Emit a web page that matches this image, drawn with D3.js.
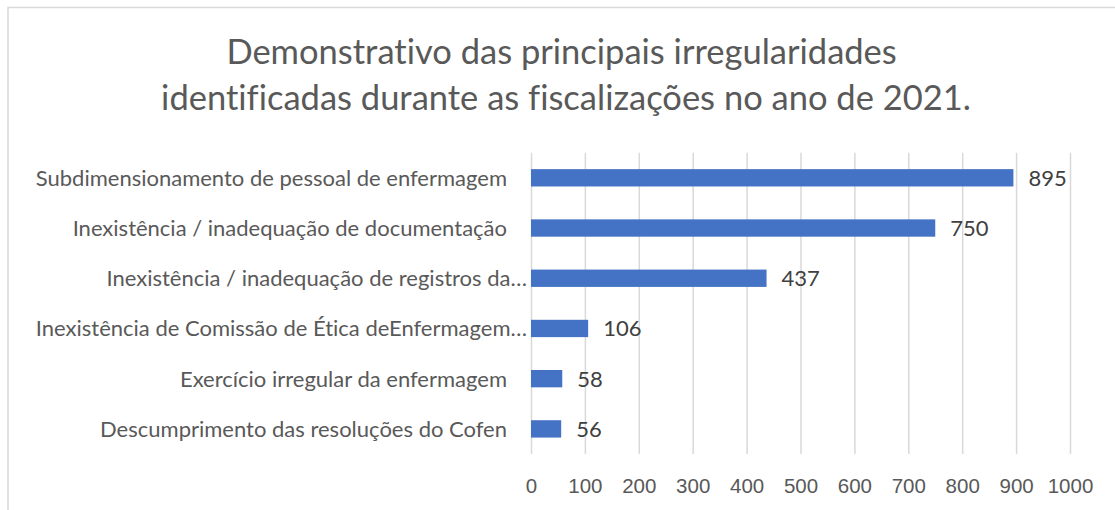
<!DOCTYPE html>
<html>
<head>
<meta charset="utf-8">
<script src="https://cdn.jsdelivr.net/npm/d3@7"></script>
<style>
  body { margin: 0; background: #fff; }
  svg { display: block; font-family: Lato, 'Open Sans', sans-serif; font-variant-ligatures: none; }
</style>
</head>
<body>
<svg id="chart" width="1115" height="510"></svg>
<script>
// Chart data

const titleLines = ['Demonstrativo das principais irregularidades ', 'identificadas durante as fiscalizações no ano de 2021.']

const categories = [
  'Subdimensionamento de pessoal de enfermagem',
  'Inexistência / inadequação de documentação',
  'Inexistência / inadequação de registros da…',
  'Inexistência de Comissão de Ética deEnfermagem…',
  'Exercício irregular da enfermagem',
  'Descumprimento das resoluções do Cofen'
]
const values = [895, 750, 437, 106, 58, 56]
const tickValues = [0, 100, 200, 300, 400, 500, 600, 700, 800, 900, 1000]

// Layout

const BAR_COLOR = '#4472C4'
const GRID_COLOR = '#D9D9D9'
const PLOT_LEFT = 531
const PLOT_RIGHT = 1070
const PLOT_TOP = 152.7
const PLOT_BOTTOM = 454

const svg = d3.select('#chart')

// outer frame (right and bottom edges fall outside the picture)
svg.append('rect')
  .attr('x', 8).attr('y', 7.5)
  .attr('width', 1130).attr('height', 520)
  .attr('fill', 'none')
  .attr('stroke', GRID_COLOR)
  .attr('stroke-width', 1.5)

svg.append('g')
  .selectAll('text')
  .data(titleLines)
  .join('text')
  .attr('x', 566)
  .attr('y', (d, i) => 64 + i * 46)
  .attr('text-anchor', 'middle')
  .attr('font-size', 34.5)
  .attr('fill', '#595959')
  .style('white-space', 'pre')
  .text(d => d)

const x = d3.scaleLinear().domain([0, 1000]).range([PLOT_LEFT, PLOT_RIGHT])
const y = d3.scaleBand()
  .domain(categories)
  .range([PLOT_TOP, PLOT_BOTTOM])
  .paddingInner(0.655)
  .paddingOuter(0.3275)

// vertical gridlines
const grid = svg.append('g')
  .attr('transform', `translate(0,${PLOT_BOTTOM})`)
  .call(d3.axisBottom(x).tickValues(tickValues).tickSize(-(PLOT_BOTTOM - PLOT_TOP)).tickFormat(''))
grid.select('.domain').remove()
grid.selectAll('line').attr('stroke', GRID_COLOR).attr('stroke-width', 1.5)

// tick labels
const axis = svg.append('g')
  .attr('transform', `translate(0,${PLOT_BOTTOM})`)
  .call(d3.axisBottom(x).tickValues(tickValues).tickSize(0).tickPadding(24).tickFormat(d3.format('d')))
axis.select('.domain').remove()
axis.selectAll('text')
  .attr('font-family', null)
  .attr('font-size', 20.5)
  .attr('fill', '#595959')

// bars
svg.append('g')
  .selectAll('rect')
  .data(values)
  .join('rect')
  .attr('x', x(0))
  .attr('y', (d, i) => y(categories[i]))
  .attr('width', d => x(d) - x(0))
  .attr('height', y.bandwidth())
  .attr('fill', BAR_COLOR)

// value labels
svg.append('g')
  .selectAll('text')
  .data(values)
  .join('text')
  .attr('x', d => x(d) + 15)
  .attr('y', (d, i) => y(categories[i]) + y.bandwidth() / 2)
  .attr('dy', '0.36em')
  .attr('font-size', 22)
  .attr('fill', '#404040')
  .text(d => d)

// category labels
svg.append('g')
  .selectAll('text')
  .data(categories)
  .join('text')
  .attr('x', d => d.endsWith('…') ? PLOT_LEFT - 4 : PLOT_LEFT - 24)
  .attr('y', d => y(d) + y.bandwidth() / 2)
  .attr('dy', '0.36em')
  .attr('text-anchor', 'end')
  .attr('font-size', 22)
  .attr('fill', '#595959')
  .text(d => d)
</script>
</body>
</html>
